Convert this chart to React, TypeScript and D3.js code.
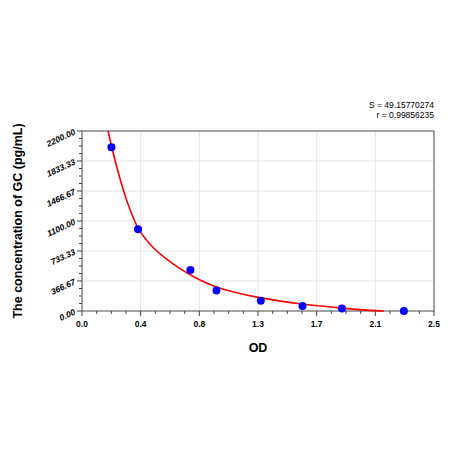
import React, { useEffect, useRef } from 'react';
import * as d3 from 'd3';

// standards: OD readings and concentrations (pg/mL)
const odValues = [0.209, 0.398, 0.77, 0.955, 1.27, 1.566, 1.846, 2.286];
const concValues = [2000, 1000, 500, 250, 125, 62.5, 31.25, 0];

// fitted curve
const curveOd = [0.185, 0.211, 0.245, 0.295, 0.35, 0.398, 0.45, 0.512, 0.576, 0.695, 0.813, 0.931, 1.05, 1.25, 1.57, 1.85, 2.0, 2.144];
const curveConc = [2200, 2000, 1770, 1460, 1190, 1000, 880, 760, 665, 515, 395, 305, 240, 160, 80, 35, 12, 0];

const xTickValues = [0, 2.5 / 6, 5 / 6, 1.25, 10 / 6, 12.5 / 6, 2.5];
const yTickValues = [0, 366.67, 733.33, 1100, 1466.67, 1833.33, 2200];
const statLines = ['S = 49.15770274', 'r = 0.99856235'];

const App: React.FC = () => {
  const svgRef = useRef<SVGSVGElement>(null);

  useEffect(() => {
    if (!svgRef.current) return;

    const width = 450;
    const height = 450;
    const margin = { top: 131, right: 16, bottom: 139, left: 82 };
    const innerW = width - margin.left - margin.right;
    const innerH = height - margin.top - margin.bottom;

    const svg = d3.select(svgRef.current);
    svg.selectAll("*").remove();

    const g = svg.append("g")
      .attr("transform", `translate(${margin.left},${margin.top})`);

    const x = d3.scaleLinear().domain([0, 2.5]).range([0, innerW]);
    const y = d3.scaleLinear().domain([0, 2200]).range([innerH, 0]);

    // grid
    g.selectAll(".vgrid")
      .data(xTickValues.slice(1, -1))
      .enter().append("line")
      .attr("x1", d => x(d)).attr("x2", d => x(d))
      .attr("y1", 0).attr("y2", innerH)
      .attr("stroke", "#e6e6e6").attr("stroke-width", 1);

    g.selectAll(".hgrid")
      .data(yTickValues.slice(1, -1))
      .enter().append("line")
      .attr("x1", 0).attr("x2", innerW)
      .attr("y1", d => y(d)).attr("y2", d => y(d))
      .attr("stroke", "#e6e6e6").attr("stroke-width", 1);

    // frame
    g.append("rect")
      .attr("width", innerW).attr("height", innerH)
      .attr("fill", "none")
      .attr("stroke", "#666")
      .attr("stroke-width", 1.2);

    // minor ticks (3 between majors)
    const xMinor: number[] = [];
    const yMinor: number[] = [];
    for (let i = 0; i < xTickValues.length - 1; i++) {
      const a = xTickValues[i], b = xTickValues[i + 1];
      for (let k = 1; k < 4; k++) xMinor.push(a + (b - a) * k / 4);
    }
    for (let i = 0; i < yTickValues.length - 1; i++) {
      const a = yTickValues[i], b = yTickValues[i + 1];
      for (let k = 1; k < 4; k++) yMinor.push(a + (b - a) * k / 4);
    }

    const tickColor = "#444";
    g.selectAll(".xmaj").data(xTickValues).enter().append("line")
      .attr("x1", d => x(d)).attr("x2", d => x(d))
      .attr("y1", innerH).attr("y2", innerH + 5)
      .attr("stroke", tickColor);
    g.selectAll(".xmin").data(xMinor).enter().append("line")
      .attr("x1", d => x(d)).attr("x2", d => x(d))
      .attr("y1", innerH).attr("y2", innerH + 3)
      .attr("stroke", tickColor);
    g.selectAll(".ymaj").data(yTickValues).enter().append("line")
      .attr("x1", -5).attr("x2", 0)
      .attr("y1", d => y(d)).attr("y2", d => y(d))
      .attr("stroke", tickColor);
    g.selectAll(".ymin").data(yMinor).enter().append("line")
      .attr("x1", -3).attr("x2", 0)
      .attr("y1", d => y(d)).attr("y2", d => y(d))
      .attr("stroke", tickColor);

    const font = "Liberation Sans, Arial, sans-serif";

    // tick labels
    g.selectAll(".xlab").data(xTickValues).enter().append("text")
      .attr("x", d => x(d)).attr("y", innerH + 16)
      .attr("text-anchor", "middle")
      .style("font-family", font).style("font-size", "8.5px").style("font-weight", "bold")
      .text(d => d.toFixed(1));

    g.selectAll(".ylab").data(yTickValues).enter().append("text")
      .attr("transform", d => `translate(-6,${y(d) + 3}) rotate(-25)`)
      .attr("text-anchor", "end")
      .style("font-family", font).style("font-size", "8.5px").style("font-weight", "bold")
      .style("font-style", "italic")
      .text(d => d.toFixed(2));

    // axis titles
    svg.append("text")
      .attr("x", margin.left + innerW / 2).attr("y", 352)
      .attr("text-anchor", "middle")
      .style("font-family", font).style("font-size", "12.5px").style("font-weight", "bold")
      .text("OD");

    svg.append("text")
      .attr("transform", `translate(22,${margin.top + innerH / 2}) rotate(-90)`)
      .attr("text-anchor", "middle")
      .style("font-family", font).style("font-size", "12.5px").style("font-weight", "bold")
      .text("The concentration of GC (pg/mL)");

    // stats
    svg.selectAll(".stat").data(statLines).enter().append("text")
      .attr("x", margin.left + innerW)
      .attr("y", (d, i) => 108 + i * 10)
      .attr("text-anchor", "end")
      .style("font-family", font).style("font-size", "8.5px")
      .text(d => d);

    // fitted curve
    const line = d3.line<number>()
      .x((d, i) => x(curveOd[i]))
      .y(d => y(d))
      .curve(d3.curveBasis);

    g.append("path")
      .datum(curveConc)
      .attr("fill", "none")
      .attr("stroke", "#ff0000")
      .attr("stroke-width", 1.6)
      .attr("d", line);

    // standards
    g.selectAll(".pt")
      .data(concValues)
      .enter().append("circle")
      .attr("cx", (d, i) => x(odValues[i]))
      .attr("cy", d => y(d))
      .attr("r", 4)
      .attr("fill", "#0000ff");
  }, []);

  return (
    <svg ref={svgRef} width="450" height="450" viewBox="0 0 450 450"
      style={{ position: 'absolute', left: 0, top: 0, background: '#fff' }}></svg>
  );
};

export default App;
